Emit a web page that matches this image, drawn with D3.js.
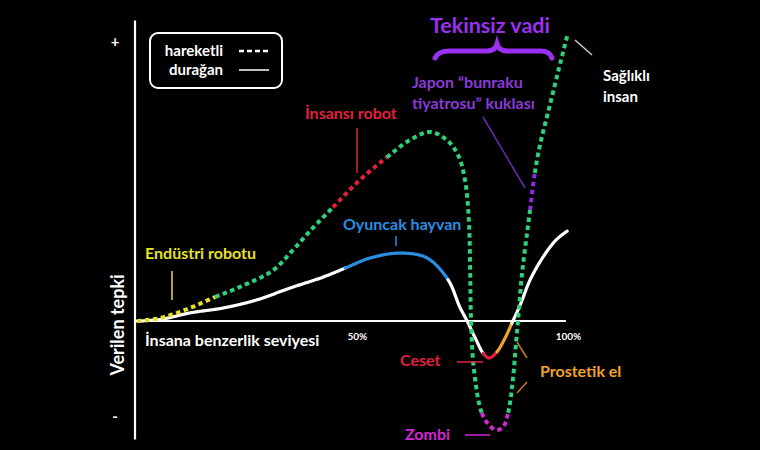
<!DOCTYPE html>
<html><head><meta charset="utf-8">
<script src="https://cdn.jsdelivr.net/npm/d3@7/dist/d3.min.js"></script>
<style>
html,body{margin:0;padding:0;background:#000;}
svg{display:block;font-family:Lato,"Open Sans",sans-serif;}
</style></head>
<body>
<svg id="chart" width="760" height="450"></svg>
<script>
// ---- data (likeness %, response) ----
const movingX = [0,5.3,12.3,18.1,23.9,31.6,36.2,40.8,45.5,51.7,58.0,63.3,68.0,71.9,74.5,76.1,77.0,77.3,77.5,78.2,80.0,81.9,83.5,84.9,86.1,87.2,87.9,88.4,89.3,90.5,91.2,92.3,93.5,95.8,98.1,100];
const movingY = [0,1.0,4.5,8.3,11.8,17.6,24.6,32.2,39.4,48.8,56.7,62.6,65.4,62.6,57.4,48.8,34.9,17.6,0.3,-17.0,-31.8,-36.3,-37.7,-36.7,-31.8,-20.4,-8.3,0,15.9,30.4,38.4,51.2,60.9,74.7,88.6,99.7];
// segments of moving curve: [startIndex, endIndex, colorKey]
const movingSegments = [[0,3,"yellow"],[3,8,"green"],[8,10,"red"],[10,20,"green"],[20,24,"magenta"],[24,30,"green"],[30,31,"purple"],[31,35,"green"]];

const stillX = [0,5.3,12.3,20.0,27.8,35.5,43.2,48.3,54.1,61.0,67.3,72.2,74.9,76.6,78.7,80.3,81.7,83.5,85.4,87.0,88.9,91.2,94.2,97.2,99.8];
const stillY = [0,0.5,2.8,4.5,7.3,11.4,15.2,18.3,21.8,23.5,21.8,14.2,4.8,0,-6.6,-11.1,-12.8,-10.7,-5.9,-0.7,5.5,14.2,22.1,28.0,31.1];
const stillSegments = [[0,7,"white"],[7,11,"blue"],[11,15,"white"],[15,17,"red"],[17,19,"orange"],[19,24,"white"]];

const tickValues = [51, 100];
const tickLabels = ["50%", "100%"];

const colors = {yellow:"#e6e02a", green:"#2fd27c", red:"#e2203c", magenta:"#d626d6", purple:"#8a2be2", white:"#ffffff", blue:"#2a8ee0", orange:"#f0a22a"};

// ---- scales ----
const x = d3.scaleLinear().domain([0,100]).range([137,568]);
const y = d3.scaleLinear().domain([0,100]).range([321,32]);

const svg = d3.select("#chart");
svg.append("rect").attr("width",760).attr("height",450).attr("fill","#000");

// axes
svg.append("line").attr("x1",x(0)-2).attr("x2",x(0)-2).attr("y1",y(104)).attr("y2",y(-41))
  .attr("stroke","#fff").attr("stroke-width",2.2);
svg.append("line").attr("x1",x(0)-2).attr("x2",x(99.5)).attr("y1",y(0)).attr("y2",y(0))
  .attr("stroke","#fff").attr("stroke-width",2.2);

const xAxis = d3.axisBottom(x).tickValues(tickValues).tickFormat((d,i)=>tickLabels[i]).tickSize(0).tickPadding(12);
const gx = svg.append("g").attr("transform",`translate(0,${y(0)})`).call(xAxis);
gx.select(".domain").remove();
gx.selectAll("text").attr("fill","#fff").attr("font-size",10).attr("font-weight","bold").attr("font-family","Lato,sans-serif");

// curves: build full smooth curve, sample it, then split into coloured pieces
const line = d3.line().x(d=>x(d[0])).y(d=>y(d[1])).curve(d3.curveCatmullRom.alpha(0.5));
const lin = d3.line().x(d=>d[0]).y(d=>d[1]);

function drawSplit(pts, segments, styleFn){
  const hidden = svg.append("path").attr("d", line(pts)).attr("fill","none").attr("stroke","none");
  const node = hidden.node();
  const L = node.getTotalLength();
  const samples = [];
  for(let l=0;l<=L;l+=0.75){ const p=node.getPointAtLength(l); samples.push([p.x,p.y]); }
  const e=node.getPointAtLength(L); samples.push([e.x,e.y]);
  hidden.remove();
  const pos = []; let start = 0;
  pts.forEach((d)=>{
    const px=x(d[0]), py=y(d[1]);
    let best=start, bd=Infinity;
    for(let i=start;i<Math.min(samples.length,start+400);i++){
      const dd=(samples[i][0]-px)**2+(samples[i][1]-py)**2;
      if(dd<bd){bd=dd;best=i;}
    }
    pos.push(best); start=best;
  });
  segments.forEach(([a,b,c])=>{
    const piece = samples.slice(pos[a], pos[b]+1);
    styleFn(svg.append("path").attr("d",lin(piece)).attr("fill","none"), c);
  });
}

const stillPts = stillX.map((v,i)=>[v,stillY[i]]);
const movingPts = movingX.map((v,i)=>[v,movingY[i]]);

drawSplit(stillPts, stillSegments, (p,c)=>p.attr("stroke",colors[c]).attr("stroke-width",3.2).attr("stroke-linecap","round").attr("stroke-linejoin","round"));
drawSplit(movingPts, movingSegments, (p,c)=>p.attr("stroke",colors[c]).attr("stroke-width",4).attr("stroke-dasharray","4.5,3.5"));

// labels
function txt(t,px,py,col,size,opts={}){
  const e = svg.append("text").attr("x",px).attr("y",py).attr("fill",col).attr("font-size",size)
    .attr("font-weight",opts.weight||"bold").attr("text-anchor",opts.anchor||"start").text(t);
  if(opts.transform) e.attr("transform",opts.transform);
  return e;
}
function seg(x1,y1,x2,y2,col,w=1.5){
  svg.append("line").attr("x1",x1).attr("y1",y1).attr("x2",x2).attr("y2",y2).attr("stroke",col).attr("stroke-width",w);
}

txt("+",115,47,"#fff",15,{anchor:"middle"});
txt("-",115,422,"#fff",15,{anchor:"middle"});
txt("Verilen tepki",0,0,"#fff",18,{anchor:"middle",transform:"translate(124,325) rotate(-90)"});
txt("İnsana benzerlik seviyesi",145,346,"#fff",16);

// legend
svg.append("rect").attr("x",150).attr("y",33).attr("width",132).attr("height",55).attr("rx",8)
  .attr("fill","none").attr("stroke","#fff").attr("stroke-width",2);
txt("hareketli",223,56,"#fff",15,{anchor:"end"});
txt("durağan",223,75,"#fff",15,{anchor:"end"});
svg.append("line").attr("x1",239).attr("x2",269).attr("y1",51).attr("y2",51).attr("stroke","#fff").attr("stroke-width",2.5).attr("stroke-dasharray","5,3");
svg.append("line").attr("x1",239).attr("x2",269).attr("y1",70).attr("y2",70).attr("stroke","#fff").attr("stroke-width",1.5);

txt("Endüstri robotu",145,259,colors.yellow,16);
seg(172,271,172,300,colors.yellow);
txt("İnsansı robot",305,119,colors.red,16);
seg(357,128,357,173,colors.red);
txt("Oyuncak hayvan",343,230,colors.blue,16);
seg(396,236,396,246,colors.blue);

txt("Tekinsiz vadi",490,33,"#9b30f0",21.5,{anchor:"middle"});
svg.append("path").attr("d","M435,58 Q438,51 450,51 L487,51 Q495,51 497,44 Q499,51 507,51 L540,51 Q550,51 552,58")
  .attr("fill","none").attr("stroke","#9b30f0").attr("stroke-width",5).attr("stroke-linecap","round");
txt("Japon “bunraku",412,88,"#8a3ad8",16);
txt("tiyatrosu” kuklası",412,109,"#8a3ad8",16);
seg(483,117,525,188,"#6a2ab0");

txt("Sağlıklı",603,81,"#fff",15);
txt("insan",603,102,"#fff",15);
seg(575,40,592,55,"#ccc");

txt("Ceset",400,366,colors.red,16);
seg(457,362,483,362,colors.red);
txt("Prostetik el",540,377,colors.orange,16);
seg(517,342,527,358,"#c08020");
seg(527,382,517,393,"#c08020");
txt("Zombi",405,440,colors.magenta,16);
seg(465,435,490,435,colors.magenta);
</script>
</body></html>
